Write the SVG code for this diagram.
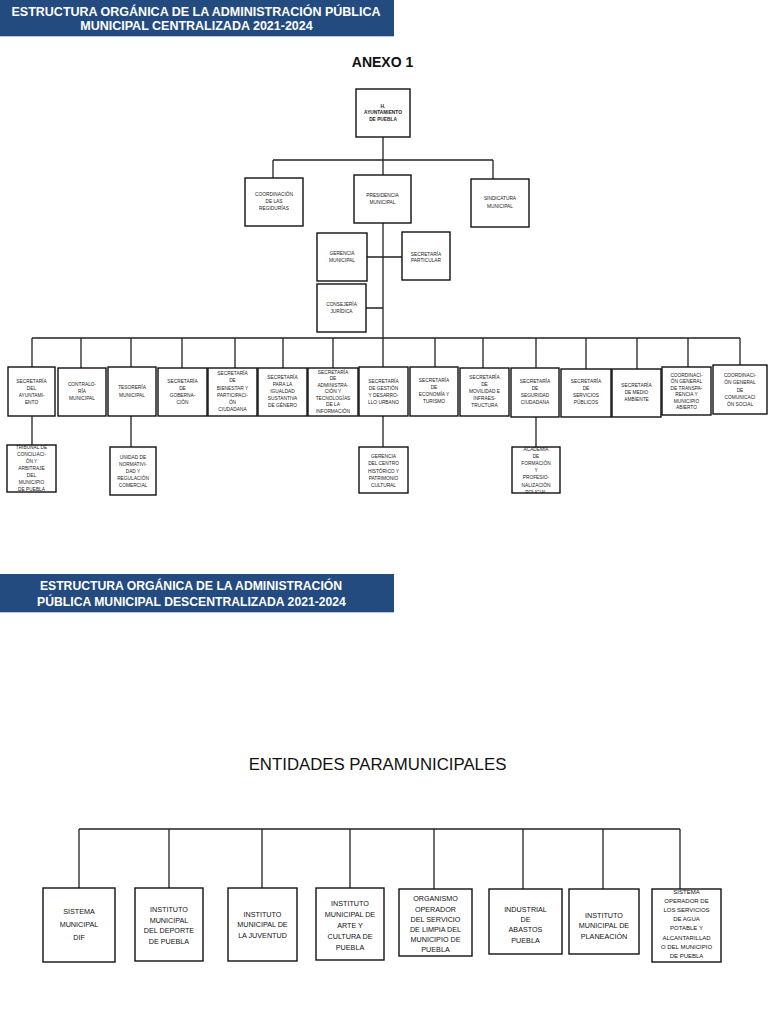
<svg xmlns="http://www.w3.org/2000/svg" width="768" height="1024" viewBox="0 0 768 1024">
<style>
.bg{fill:#ffffff}
.band{fill:#234b7f}
.ht{font-family:"Liberation Sans",Arial,sans-serif;font-weight:bold;font-size:12.5px;fill:#ffffff;text-anchor:middle}
.box{fill:#ffffff;stroke:#111111;stroke-width:1.4}
.t{font-family:"Liberation Sans",Arial,sans-serif;font-size:4.8px;fill:#222222;text-anchor:middle}
.tb{font-weight:bold}
.bt{font-family:"Liberation Sans",Arial,sans-serif;font-size:7.2px;fill:#111111;text-anchor:middle}
.ln{fill:none;stroke:#222222;stroke-width:1.3}
</style>
<defs>
<clipPath id="clipAcad"><rect x="512" y="447" width="48" height="46"/></clipPath>
</defs>
<rect class="bg" x="0" y="0" width="768" height="1024"/>

<g id="header1">
<rect class="band" x="0" y="0" width="394" height="36"/>
<line x1="0" y1="36.5" x2="394" y2="36.5" stroke="#b9c6d8" stroke-width="1"/>
<text class="ht" x="196" y="16">ESTRUCTURA ORGÁNICA DE LA ADMINISTRACIÓN PÚBLICA</text>
<text class="ht" x="196.5" y="30">MUNICIPAL CENTRALIZADA 2021-2024</text>
</g>
<text id="anexo" x="382.5" y="67" font-family="Liberation Sans, Arial, sans-serif" font-weight="bold" font-size="14" text-anchor="middle" fill="#111">ANEXO 1</text>

<g id="connectors">
<path class="ln" d="M383,137 V160 M273,160 H493 M273,160 V178 M493,160 V179 M383,160 V175"/>
<path class="ln" d="M383,223 V338 M367,257 H402 M366,308 H383"/>
<path class="ln" d="M32,338 H740 M32,338 V367 M81,338 V368 M131,338 V367 M182,338 V368 M235,338 V368 M283,338 V368 M333,338 V368 M383,338 V367 M435,338 V367 M483,338 V368 M536,338 V368 M586,338 V369 M637,338 V369 M688,338 V367 M740,338 V365"/>
<path class="ln" d="M32,416 V445 M131,416 V447 M383,416 V447 M536,417 V447"/>
<path class="ln" d="M79,829 H680 M79,829 V888 M169,829 V888 M262,829 V888 M350,829 V888 M434,829 V889 M523,829 V889 M603,829 V889 M680,829 V889"/>
</g>

<g id="n-ayuntamiento"><rect class="box" x="356" y="89" width="54" height="48"/>
<text class="t tb" x="383" y="107.8">H.<tspan x="383" dy="6.5">AYUNTAMIENTO</tspan><tspan x="383" dy="6.5">DE PUEBLA</tspan></text></g>
<g id="n-coordinacion-regidurias"><rect class="box" x="245" y="178" width="58" height="48"/>
<text class="t" x="274" y="195.7">COORDINACIÓN<tspan x="274" dy="7">DE LAS</tspan><tspan x="274" dy="7">REGIDURÍAS</tspan></text></g>
<g id="n-presidencia"><rect class="box" x="354" y="175" width="57" height="48"/>
<text class="t" x="382.5" y="196.7">PRESIDENCIA<tspan x="382.5" dy="7.3">MUNICIPAL</tspan></text></g>
<g id="n-sindicatura"><rect class="box" x="471" y="179" width="58" height="48"/>
<text class="t" x="500" y="200">SINDICATURA<tspan x="500" dy="8">MUNICIPAL</tspan></text></g>
<g id="n-gerencia-municipal"><rect class="box" x="317" y="233" width="50" height="48"/>
<text class="t" x="342" y="255.2">GERENCIA<tspan x="342" dy="6.5">MUNICIPAL</tspan></text></g>
<g id="n-secretaria-particular"><rect class="box" x="402" y="232" width="48" height="48"/>
<text class="t" x="426" y="255.5">SECRETARÍA<tspan x="426" dy="6">PARTICULAR</tspan></text></g>
<g id="n-consejeria"><rect class="box" x="317" y="284" width="49" height="48"/>
<text class="t" x="341.5" y="306">CONSEJERÍA<tspan x="341.5" dy="6.5">JURÍDICA</tspan></text></g>

<g id="n-sec-ayuntamiento"><rect class="box" x="8" y="367" width="47" height="49"/>
<text class="t" x="31.5" y="382.7">SECRETARÍA<tspan x="31.5" dy="7">DEL</tspan><tspan x="31.5" dy="7">AYUNTAMI-</tspan><tspan x="31.5" dy="7">ENTO</tspan></text></g>
<g id="n-contraloria"><rect class="box" x="58" y="368" width="48" height="48"/>
<text class="t" x="82" y="386.2">CONTRALO-<tspan x="82" dy="7">RÍA</tspan><tspan x="82" dy="7">MUNICIPAL</tspan></text></g>
<g id="n-tesoreria"><rect class="box" x="108" y="367" width="48" height="49"/>
<text class="t" x="132" y="389.2">TESORERÍA<tspan x="132" dy="7.5">MUNICIPAL</tspan></text></g>
<g id="n-gobernacion"><rect class="box" x="158" y="368" width="49" height="48"/>
<text class="t" x="182.5" y="382.7">SECRETARÍA<tspan x="182.5" dy="7">DE</tspan><tspan x="182.5" dy="7">GOBERNA-</tspan><tspan x="182.5" dy="7">CIÓN</tspan></text></g>
<g id="n-bienestar"><rect class="box" x="208" y="368" width="49" height="48"/>
<text class="t" x="232.5" y="375.2">SECRETARÍA<tspan x="232.5" dy="7.2">DE</tspan><tspan x="232.5" dy="7.2">BIENESTAR Y</tspan><tspan x="232.5" dy="7.2">PARTICIPACI-</tspan><tspan x="232.5" dy="7.2">ÓN</tspan><tspan x="232.5" dy="7.2">CIUDADANA</tspan></text></g>
<g id="n-igualdad"><rect class="box" x="258" y="368" width="49" height="48"/>
<text class="t" x="282.5" y="379.2">SECRETARÍA<tspan x="282.5" dy="7">PARA LA</tspan><tspan x="282.5" dy="7">IGUALDAD</tspan><tspan x="282.5" dy="7">SUSTANTIVA</tspan><tspan x="282.5" dy="7">DE GÉNERO</tspan></text></g>
<g id="n-administracion"><rect class="box" x="308" y="368" width="50" height="48"/>
<text class="t" x="333" y="373.7">SECRETARÍA<tspan x="333" dy="6.5">DE</tspan><tspan x="333" dy="6.5">ADMINISTRA-</tspan><tspan x="333" dy="6.5">CIÓN Y</tspan><tspan x="333" dy="6.5">TECNOLOGÍAS</tspan><tspan x="333" dy="6.5">DE LA</tspan><tspan x="333" dy="6.5">INFORMACIÓN</tspan></text></g>
<g id="n-gestion-urbana"><rect class="box" x="359" y="367" width="49" height="49"/>
<text class="t" x="383.5" y="382.7">SECRETARÍA<tspan x="383.5" dy="7">DE GESTIÓN</tspan><tspan x="383.5" dy="7">Y DESARRO-</tspan><tspan x="383.5" dy="7">LLO URBANO</tspan></text></g>
<g id="n-economia"><rect class="box" x="410" y="367" width="48" height="49"/>
<text class="t" x="434" y="382.2">SECRETARÍA<tspan x="434" dy="7">DE</tspan><tspan x="434" dy="7">ECONOMÍA Y</tspan><tspan x="434" dy="7">TURISMO</tspan></text></g>
<g id="n-movilidad"><rect class="box" x="460" y="368" width="49" height="48"/>
<text class="t" x="484.5" y="379.2">SECRETARÍA<tspan x="484.5" dy="7">DE</tspan><tspan x="484.5" dy="7">MOVILIDAD E</tspan><tspan x="484.5" dy="7">INFRAES-</tspan><tspan x="484.5" dy="7">TRUCTURA</tspan></text></g>
<g id="n-seguridad"><rect class="box" x="511" y="368" width="48" height="49"/>
<text class="t" x="535" y="383.2">SECRETARÍA<tspan x="535" dy="7">DE</tspan><tspan x="535" dy="7">SEGURIDAD</tspan><tspan x="535" dy="7">CIUDADANA</tspan></text></g>
<g id="n-servicios"><rect class="box" x="561" y="369" width="50" height="48"/>
<text class="t" x="586" y="383.2">SECRETARÍA<tspan x="586" dy="7">DE</tspan><tspan x="586" dy="7">SERVICIOS</tspan><tspan x="586" dy="7">PÚBLICOS</tspan></text></g>
<g id="n-medio-ambiente"><rect class="box" x="612" y="369" width="49" height="48"/>
<text class="t" x="636.5" y="386.7">SECRETARÍA<tspan x="636.5" dy="7">DE MEDIO</tspan><tspan x="636.5" dy="7">AMBIENTE</tspan></text></g>
<g id="n-transparencia"><rect class="box" x="662" y="367" width="49" height="48"/>
<text class="t" x="686.5" y="376.5">COORDINACI-<tspan x="686.5" dy="6.5">ÓN GENERAL</tspan><tspan x="686.5" dy="6.5">DE TRANSPA-</tspan><tspan x="686.5" dy="6.5">RENCIA Y</tspan><tspan x="686.5" dy="6.5">MUNICIPIO</tspan><tspan x="686.5" dy="6.5">ABIERTO</tspan></text></g>
<g id="n-comunicacion"><rect class="box" x="713" y="365" width="54" height="49"/>
<text class="t" x="740" y="377.1">COORDINACI-<tspan x="740" dy="7.3">ÓN GENERAL</tspan><tspan x="740" dy="7.3">DE</tspan><tspan x="740" dy="7.3">COMUNICACI</tspan><tspan x="740" dy="7.3">ÓN SOCIAL</tspan></text></g>

<g id="n-tribunal"><rect class="box" x="7" y="445" width="49" height="47"/>
<text class="t" x="31.5" y="449">TRIBUNAL DE<tspan x="31.5" dy="7">CONCILIACI-</tspan><tspan x="31.5" dy="7">ÓN Y</tspan><tspan x="31.5" dy="7">ARBITRAJE</tspan><tspan x="31.5" dy="7">DEL</tspan><tspan x="31.5" dy="7">MUNICIPIO</tspan><tspan x="31.5" dy="7">DE PUEBLA</tspan></text></g>
<g id="n-normatividad"><rect class="box" x="110" y="447" width="46" height="48"/>
<text class="t" x="133" y="459.4">UNIDAD DE<tspan x="133" dy="6.8">NORMATIVI-</tspan><tspan x="133" dy="6.8">DAD Y</tspan><tspan x="133" dy="6.8">REGULACIÓN</tspan><tspan x="133" dy="6.8">COMERCIAL</tspan></text></g>
<g id="n-centro-historico"><rect class="box" x="359" y="447" width="49" height="46"/>
<text class="t" x="383.5" y="458.3">GERENCIA<tspan x="383.5" dy="7.1">DEL CENTRO</tspan><tspan x="383.5" dy="7.1">HISTÓRICO Y</tspan><tspan x="383.5" dy="7.1">PATRIMONIO</tspan><tspan x="383.5" dy="7.1">CULTURAL</tspan></text></g>
<g id="n-academia"><rect x="512" y="447" width="48" height="46" fill="#ffffff"/>
<text class="t" clip-path="url(#clipAcad)" x="536" y="450.6">ACADEMIA<tspan x="536" dy="7.2">DE</tspan><tspan x="536" dy="7.2">FORMACIÓN</tspan><tspan x="536" dy="7.2">Y</tspan><tspan x="536" dy="7.2">PROFESIO-</tspan><tspan x="536" dy="7.2">NALIZACIÓN</tspan><tspan x="536" dy="7.2">POLICIAL</tspan></text>
<rect x="512" y="447" width="48" height="46" fill="none" stroke="#111" stroke-width="1.4"/></g>

<g id="header2">
<rect class="band" x="0" y="574" width="394" height="38"/>
<line x1="0" y1="612.5" x2="394" y2="612.5" stroke="#b9c6d8" stroke-width="1"/>
<text class="ht" x="191" y="590" style="font-size:12.2px">ESTRUCTURA ORGÁNICA DE LA ADMINISTRACIÓN</text>
<text class="ht" x="191.5" y="605.7" style="font-size:12.2px">PÚBLICA MUNICIPAL DESCENTRALIZADA 2021-2024</text>
</g>
<text id="entidades" x="377.5" y="770" font-family="Liberation Sans, Arial, sans-serif" font-size="16.8" text-anchor="middle" fill="#111">ENTIDADES PARAMUNICIPALES</text>

<g id="n-dif"><rect class="box" x="43" y="888" width="72" height="74"/>
<text class="bt" x="79" y="913.6">SISTEMA<tspan x="79" dy="13">MUNICIPAL</tspan><tspan x="79" dy="13">DIF</tspan></text></g>
<g id="n-deporte"><rect class="box" x="135" y="888" width="68" height="73"/>
<text class="bt" x="169" y="911.9">INSTITUTO<tspan x="169" dy="10.6">MUNICIPAL</tspan><tspan x="169" dy="10.6">DEL DEPORTE</tspan><tspan x="169" dy="10.6">DE PUEBLA</tspan></text></g>
<g id="n-juventud"><rect class="box" x="228" y="888" width="69" height="73"/>
<text class="bt" x="262.5" y="916.6">INSTITUTO<tspan x="262.5" dy="10.5">MUNICIPAL DE</tspan><tspan x="262.5" dy="10.5">LA JUVENTUD</tspan></text></g>
<g id="n-arte"><rect class="box" x="316" y="888" width="68" height="72"/>
<text class="bt" x="350" y="905.6">INSTITUTO<tspan x="350" dy="11.2">MUNICIPAL DE</tspan><tspan x="350" dy="11.2">ARTE Y</tspan><tspan x="350" dy="11.2">CULTURA DE</tspan><tspan x="350" dy="11.2">PUEBLA</tspan></text></g>
<g id="n-limpia"><rect class="box" x="399" y="889" width="73" height="67"/>
<text class="bt" x="435.5" y="901.4">ORGANISMO<tspan x="435.5" dy="10.2">OPERADOR</tspan><tspan x="435.5" dy="10.2">DEL SERVICIO</tspan><tspan x="435.5" dy="10.2">DE LIMPIA DEL</tspan><tspan x="435.5" dy="10.2">MUNICIPIO DE</tspan><tspan x="435.5" dy="10.2">PUEBLA</tspan></text></g>
<g id="n-abastos"><rect class="box" x="489" y="889" width="73" height="65"/>
<text class="bt" x="525.5" y="911.6">INDUSTRIAL<tspan x="525.5" dy="10.4">DE</tspan><tspan x="525.5" dy="10.4">ABASTOS</tspan><tspan x="525.5" dy="10.4">PUEBLA</tspan></text></g>
<g id="n-planeacion"><rect class="box" x="569" y="889" width="70" height="65"/>
<text class="bt" x="604" y="917.6">INSTITUTO<tspan x="604" dy="10.6">MUNICIPAL DE</tspan><tspan x="604" dy="10.6">PLANEACIÓN</tspan></text></g>
<g id="n-soapap"><rect class="box" x="652" y="889" width="69" height="73"/>
<text class="bt" x="686.5" y="893.6" style="font-size:6px">SISTEMA<tspan x="686.5" dy="9.2">OPERADOR DE</tspan><tspan x="686.5" dy="9.2">LOS SERVICIOS</tspan><tspan x="686.5" dy="9.2">DE AGUA</tspan><tspan x="686.5" dy="9.2">POTABLE Y</tspan><tspan x="686.5" dy="9.2">ALCANTARILLAD</tspan><tspan x="686.5" dy="9.2">O DEL MUNICIPIO</tspan><tspan x="686.5" dy="9.2">DE PUEBLA</tspan></text></g>
</svg>
